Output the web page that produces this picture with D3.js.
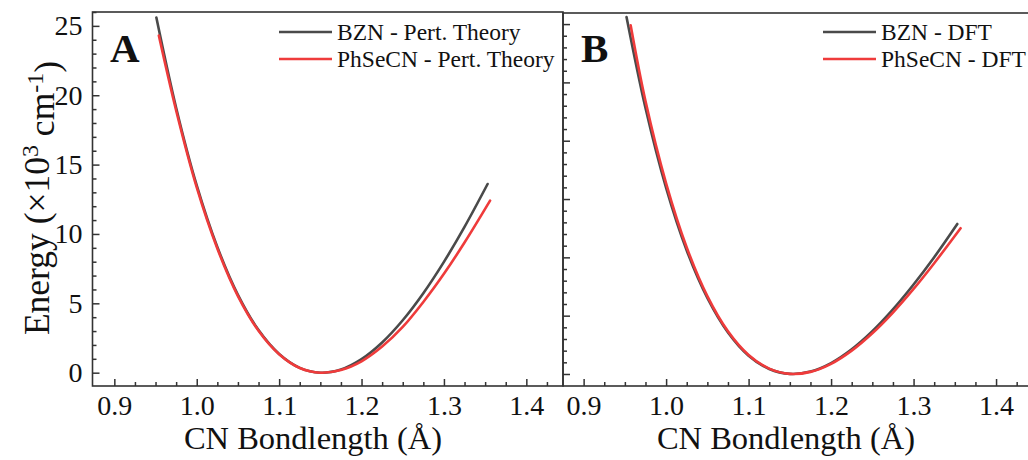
<!DOCTYPE html>
<html>
<head>
<meta charset="utf-8">
<script src="https://cdn.jsdelivr.net/npm/d3@7"></script>
<style>
  html, body { margin: 0; padding: 0; background: #fff; }
  svg { display: block; font-family: "Liberation Serif", "Times New Roman", serif; }
</style>
</head>
<body>
<svg id="chart" width="1028" height="460"></svg>
<script>
// ---- Data ----
// Panel A: perturbation theory
const bznPertX   = [0.951, 0.975, 1.000, 1.025, 1.050, 1.075, 1.100, 1.125, 1.150, 1.175, 1.200, 1.225, 1.250, 1.275, 1.300, 1.325, 1.353];
const bznPertE   = [25.6, 19.1, 13.5, 9.06, 5.61, 3.07, 1.35, 0.35, 0.0, 0.23, 0.98, 2.18, 3.78, 5.73, 7.99, 10.51, 13.6];
const phsePertX  = [0.954, 0.975, 1.000, 1.025, 1.050, 1.075, 1.100, 1.125, 1.150, 1.175, 1.200, 1.225, 1.250, 1.275, 1.300, 1.325, 1.356];
const phsePertE  = [24.3, 18.9, 13.35, 8.95, 5.52, 3.02, 1.33, 0.34, 0.0, 0.19, 0.82, 1.88, 3.30, 5.10, 7.13, 9.38, 12.4];
// Panel B: DFT
const bznDftX    = [0.952, 0.975, 1.000, 1.025, 1.050, 1.075, 1.100, 1.125, 1.150, 1.175, 1.200, 1.225, 1.250, 1.275, 1.300, 1.325, 1.353];
const bznDftE    = [30.6, 22.8, 15.96, 10.59, 6.52, 3.56, 1.57, 0.43, 0.01, 0.21, 0.94, 2.12, 3.67, 5.54, 7.67, 10.01, 12.86];
const phseDftX   = [0.957, 0.975, 1.000, 1.025, 1.050, 1.075, 1.100, 1.125, 1.150, 1.175, 1.200, 1.225, 1.250, 1.275, 1.300, 1.325, 1.357];
const phseDftE   = [29.9, 23.4, 16.35, 10.85, 6.68, 3.66, 1.63, 0.46, 0.01, 0.18, 0.87, 2.00, 3.49, 5.27, 7.29, 9.50, 12.5];

const seriesNamesA = ["BZN - Pert. Theory", "PhSeCN - Pert. Theory"];
const seriesNamesB = ["BZN - DFT", "PhSeCN - DFT"];
const seriesColors = ["#4a4a4a", "#ef3b3b"];

const xMajorTicks = [0.9, 1.0, 1.1, 1.2, 1.3, 1.4];
const xMinorTicks = [0.9, 0.925, 0.95, 0.975, 1.0, 1.025, 1.05, 1.075, 1.1, 1.125, 1.15, 1.175, 1.2, 1.225, 1.25, 1.275, 1.3, 1.325, 1.35, 1.375, 1.4, 1.425];
const yMajorTicksA = [0, 5, 10, 15, 20, 25];
const yMajorTicksB = [0, 5, 10, 15, 20, 25, 30];

const panelLabels = ["A", "B"];
const xTitle = "CN Bondlength (Å)";

// ---- Drawing ----
const svg = d3.select("#chart");
const FONT = '"Liberation Serif", "Times New Roman", serif';
const axisColor = "#333";

const panels = [
  { left: 92.5, right: 563, top: 12, bottom: 386, xDom: [0.8735, 1.4445], yDom: [-0.96, 26],
    yMajor: yMajorTicksA, yMinorMax: 26, yLabels: true,
    series: [[bznPertX, bznPertE], [phsePertX, phsePertE]], names: seriesNamesA,
    legendX: 279, label: panelLabels[0], labelX: 110, titleX: 313 },
  { left: 563, right: 1034, top: 13, bottom: 386, xDom: [0.875, 1.446], yDom: [-1.03, 30.95],
    yMajor: yMajorTicksB, yMinorMax: 30, yLabels: false,
    series: [[bznDftX, bznDftE], [phseDftX, phseDftE]], names: seriesNamesB,
    legendX: 823, label: panelLabels[1], labelX: 581, titleX: 786 }
];

panels.forEach((p, pi) => {
  const x = d3.scaleLinear().domain(p.xDom).range([p.left, p.right]);
  const y = d3.scaleLinear().domain(p.yDom).range([p.bottom, p.top]);
  const g = svg.append("g");

  // curves
  const line = d3.line().x(d => x(d[0])).y(d => y(d[1])).curve(d3.curveCatmullRom.alpha(0.5));
  p.series.forEach((s, si) => {
    const pts = s[0].map((v, i) => [v, s[1][i]]);
    g.append("path").datum(pts)
      .attr("d", line)
      .attr("fill", "none")
      .attr("stroke", seriesColors[si])
      .attr("stroke-width", 2.6)
      .attr("stroke-linecap", "round")
      .attr("stroke-linejoin", "round");
  });

  // bottom axis: minor
  const minorX = xMinorTicks.filter(v => xMajorTicks.every(m => Math.abs(m - v) > 1e-6));
  g.append("g").attr("transform", `translate(0,${p.bottom})`)
    .call(d3.axisBottom(x).tickValues(minorX).tickSizeInner(-4).tickSizeOuter(0).tickFormat(""))
    .call(a => a.select(".domain").remove())
    .call(a => a.selectAll("line").attr("stroke", axisColor).attr("stroke-width", 1.5));
  // bottom axis: major
  g.append("g").attr("transform", `translate(0,${p.bottom})`)
    .call(d3.axisBottom(x).tickValues(xMajorTicks).tickSizeInner(-7).tickSizeOuter(0)
      .tickPadding(9).tickFormat(d3.format(".1f")))
    .call(a => a.select(".domain").remove())
    .call(a => a.selectAll("line").attr("stroke", axisColor).attr("stroke-width", 1.5))
    .call(a => a.selectAll("text").attr("font-family", FONT).attr("font-size", 28).attr("fill", "#111"));

  // left axis
  const yMinor = d3.range(0, p.yMinorMax + 1).filter(v => v % 5 !== 0);
  g.append("g").attr("transform", `translate(${p.left},0)`)
    .call(d3.axisLeft(y).tickValues(yMinor).tickSizeInner(-4).tickSizeOuter(0).tickFormat(""))
    .call(a => a.select(".domain").remove())
    .call(a => a.selectAll("line").attr("stroke", axisColor).attr("stroke-width", 1.5));
  g.append("g").attr("transform", `translate(${p.left},0)`)
    .call(d3.axisLeft(y).tickValues(p.yMajor).tickSizeInner(-7).tickSizeOuter(0)
      .tickPadding(10).tickFormat(p.yLabels ? d3.format("d") : ""))
    .call(a => a.select(".domain").remove())
    .call(a => a.selectAll("line").attr("stroke", axisColor).attr("stroke-width", 1.5))
    .call(a => a.selectAll("text").attr("font-family", FONT).attr("font-size", 28).attr("fill", "#111"));

  // frame
  g.append("rect")
    .attr("x", p.left).attr("y", p.top)
    .attr("width", p.right - p.left).attr("height", p.bottom - p.top)
    .attr("fill", "none").attr("stroke", axisColor).attr("stroke-width", 1.6);

  // legend
  const ly = [32, 59];
  p.names.forEach((n, i) => {
    g.append("line").attr("x1", p.legendX).attr("x2", p.legendX + 53)
      .attr("y1", ly[i]).attr("y2", ly[i])
      .attr("stroke", seriesColors[i]).attr("stroke-width", 2.6);
    g.append("text").attr("x", p.legendX + 58).attr("y", ly[i]).attr("dy", "0.33em")
      .attr("font-family", FONT).attr("font-size", 23.5).attr("fill", "#111").text(n);
  });

  // panel label
  g.append("text").attr("x", p.labelX).attr("y", 62)
    .attr("font-family", FONT).attr("font-size", 41).attr("font-weight", "bold")
    .attr("fill", "#111").text(p.label);

  // x title
  g.append("text").attr("x", p.titleX).attr("y", 449).attr("text-anchor", "middle")
    .attr("font-family", FONT).attr("font-size", 32.5).attr("fill", "#111").text(xTitle);
});

// y title
const yt = svg.append("text")
  .attr("transform", "translate(49,198) rotate(-90)")
  .attr("text-anchor", "middle")
  .attr("font-family", FONT).attr("font-size", 35.5).attr("fill", "#111");
yt.append("tspan").text("Energy (×10");
yt.append("tspan").attr("dy", "-0.45em").attr("font-size", 24).text("3");
yt.append("tspan").attr("dy", "0.45em").text(" cm");
yt.append("tspan").attr("dy", "-0.45em").attr("font-size", 24).text("-1");
yt.append("tspan").attr("dy", "0.45em").text(")");
</script>
</body>
</html>
